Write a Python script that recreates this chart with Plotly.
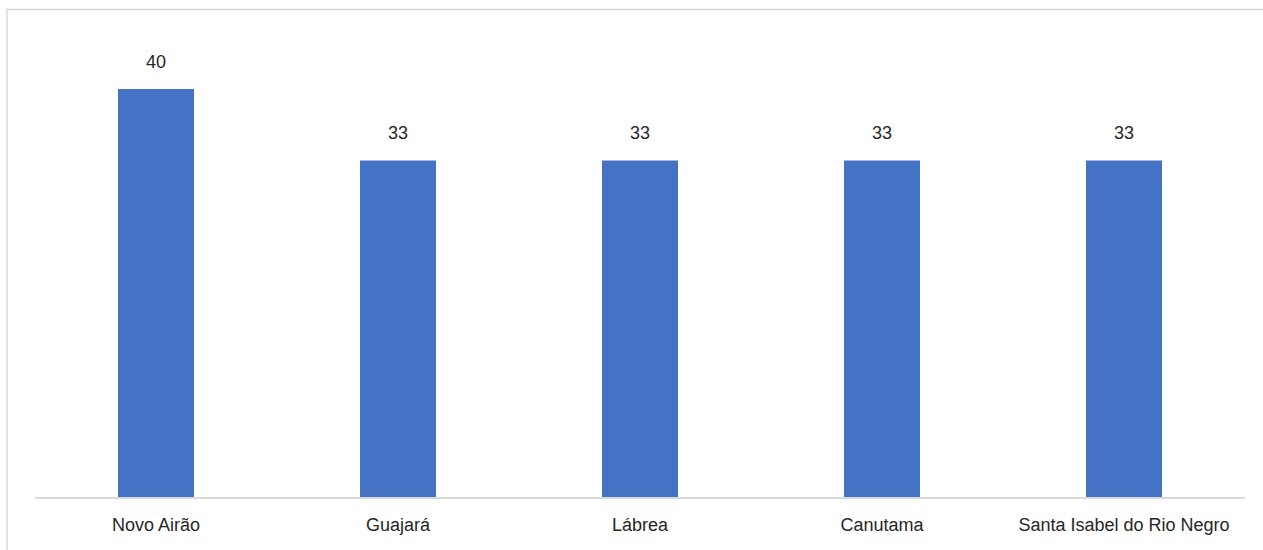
import plotly.graph_objects as go

municipios = ["Novo Airão", "Guajará", "Lábrea", "Canutama", "Santa Isabel do Rio Negro"]
valores = [40, 33, 33, 33, 33]

FONT = "Liberation Sans Narrow, Arial Narrow, Liberation Sans, Arial, sans-serif"

fig = go.Figure(
    go.Bar(
        x=municipios,
        y=valores,
        marker=dict(color="#4472C4", line=dict(width=0)),
        width=0.314,
        hoverinfo="skip",
    )
)

# value labels above each bar
for m, v in zip(municipios, valores):
    fig.add_annotation(
        x=m, y=v, text=str(v), showarrow=False,
        yanchor="bottom", yshift=15,
        font=dict(family=FONT, size=18, color="#262626"),
    )

# light chart-area frame
fig.add_shape(
    type="rect", xref="paper", yref="paper",
    x0=(7 - 35) / 1210, x1=1.05, y0=-0.2, y1=1 + (38 - 9.5) / 459,
    line=dict(color="#d9d9d9", width=1.5), layer="below",
)

fig.update_layout(
    width=1263, height=550,
    margin=dict(l=35, r=18, t=38, b=53),
    paper_bgcolor="white", plot_bgcolor="white",
    showlegend=False,
    font=dict(family=FONT, size=18, color="#262626"),
    xaxis=dict(
        showline=True, linecolor="#d9d9d9", linewidth=1.5,
        ticks="outside", ticklen=11, tickcolor="rgba(0,0,0,0)",
        tickfont=dict(family=FONT, size=18, color="#262626"),
        showgrid=False,
    ),
    yaxis=dict(
        range=[0, 45], visible=False, showgrid=False, zeroline=False,
    ),
)

fig.write_html("out.html")
